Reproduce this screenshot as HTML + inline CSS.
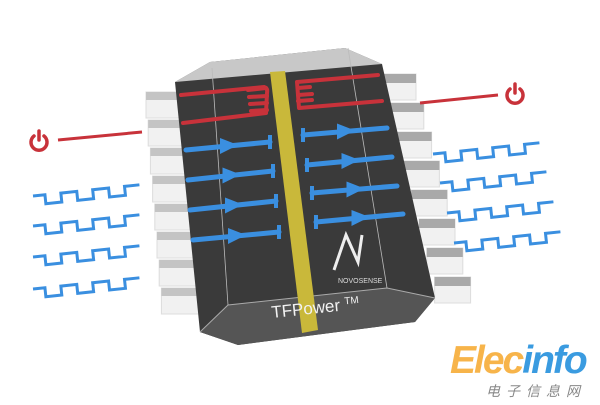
<!DOCTYPE html>
<html><head><meta charset="utf-8"><style>
html,body{margin:0;padding:0;background:#fff;width:600px;height:405px;overflow:hidden}
</style></head><body>
<svg id="s" width="600" height="405" viewBox="0 0 600 405" xmlns="http://www.w3.org/2000/svg">
<rect width="600" height="405" fill="#fff"/>
<g id="pins"></g>
<polygon points="175,82 210,62 345,48 382,64 435,298 415,322 238,345 200,332" fill="#3a3a3a"/>
<polygon points="175,82 210,62 345,48 382,64" fill="#d8d8d8" opacity="0.9"/>
<polygon points="200,332 228,305 387,288 435,298 415,322 238,345" fill="#555"/>
<polyline points="200,332 228,305 387,288 435,298" fill="none" stroke="#aaa" stroke-width="1"/>
<line x1="228" y1="305" x2="212" y2="68" stroke="#bbb" stroke-width="0.8"/>
<line x1="387" y1="288" x2="348" y2="48" stroke="#bbb" stroke-width="0.8"/>
<polygon points="270,72 285,71 318,330 302,333" fill="#c9b83a"/>
<g fill="none" stroke="#c8323a" stroke-width="4" stroke-linecap="round">
<path d="M181,95 L264,87 M183,123 L266,113 M264,87 Q268,88 267,93 L266,113"/>
<path d="M248,90 L266,88 M249,97 L267,96 M250,104 L267,103 M251,111 L267,110"/>
<path d="M297,82 L378,75 M299,108 L382,101 M297,82 L299,108"/>
<path d="M298,88 L310,87 M298,95 L312,94 M298,101 L312,100"/>
</g>
<g id="arrows"></g>
<g fill="none" stroke="#eee" stroke-width="3"><path d="M334,270 L346,235 L358,262 L362,235"/></g>
<text x="338" y="283" font-family="Liberation Sans,sans-serif" font-size="7" fill="#ddd">NOVOSENSE</text>
<text x="272" y="318" font-family="Liberation Sans,sans-serif" font-size="17" fill="#f2f2f2" transform="rotate(-6 272 318)">TFPower <tspan font-size="10" dy="-6">TM</tspan></text>
<line x1="58" y1="140" x2="142" y2="132" stroke="#c8323a" stroke-width="3"/>
<line x1="420" y1="103" x2="498" y2="95" stroke="#c8323a" stroke-width="3"/>
<g fill="none" stroke="#c8323a" stroke-width="3.5" stroke-linecap="round">
<path d="M34,136 A8,8 0 1 0 44,136"/><line x1="39" y1="131" x2="39" y2="140"/>
<path d="M510,89 A8,8 0 1 0 520,89"/><line x1="515" y1="84" x2="515" y2="93"/>
</g>
<g id="waves"></g>
<text x="450" y="373" font-family="Liberation Sans,sans-serif" font-size="39" font-weight="bold" font-style="italic" fill="#f7b44a" letter-spacing="-2">Elec<tspan fill="#3a9be0">info</tspan></text>
<text x="486" y="396" font-family="Liberation Sans,'Noto Sans CJK SC',sans-serif" font-size="14" fill="#888" letter-spacing="6" font-style="italic">电子信息网</text>
</svg>
<script>
var NS="http://www.w3.org/2000/svg";
function add(g,tag,attrs){var e=document.createElementNS(NS,tag);for(var k in attrs)e.setAttribute(k,attrs[k]);document.getElementById(g).appendChild(e);return e;}
for(var i=0;i<8;i++){
 var y=92+i*28;
 var lx=146+i*2.2;
 add("pins","rect",{x:lx,y:y,width:38,height:26,fill:"#f1f1f1",stroke:"#ddd"});
 add("pins","rect",{x:lx,y:y,width:38,height:8,fill:"#c4c4c4"});
 var rx=380+i*7.8, ry=y-18+i*1;
 add("pins","rect",{x:rx,y:ry,width:36,height:26,fill:"#f1f1f1",stroke:"#ddd"});
 add("pins","rect",{x:rx,y:ry,width:36,height:9,fill:"#a9a9a9"});
}
function wave(x,y,ang){
 var d="M0,0 h12 v9 h16 v-9 h16 v9 h16 v-9 h16 v9 h16 v-9 h15";
 add("waves","path",{d:d,fill:"none",stroke:"#3a8fe0","stroke-width":3,transform:"translate("+x+","+y+") rotate("+ang+")"});
}
[[33,196],[33,226],[33,257],[33,289]].forEach(function(p){wave(p[0],p[1],-6)});
[[433,154],[440,183],[447,213],[454,243]].forEach(function(p){wave(p[0],p[1],-6)});
function arrow(x1,y1,x2,y2,rev){
 add("arrows","line",{x1:x1,y1:y1,x2:x2,y2:y2,stroke:"#3a8fe0","stroke-width":5,"stroke-linecap":"round"});
 var tx=rev?x1:x2, ty=rev?y1:y2;
 add("arrows","line",{x1:tx,y1:ty-7,x2:tx,y2:ty+7,stroke:"#3a8fe0","stroke-width":4});
 var mx=(x1+x2)/2, my=(y1+y2)/2;
 add("arrows","polygon",{points:(mx-8)+","+(my-8)+" "+(mx+10)+","+(my-1)+" "+(mx-8)+","+(my+8),fill:"#3a8fe0"});
}
arrow(186,150,270,142,false);
arrow(188,180,273,171,false);
arrow(190,210,276,201,false);
arrow(193,240,279,232,false);
arrow(303,135,387,128,true);
arrow(307,165,392,157,true);
arrow(312,193,397,186,true);
arrow(316,222,403,214,true);
</script>
</body></html>
